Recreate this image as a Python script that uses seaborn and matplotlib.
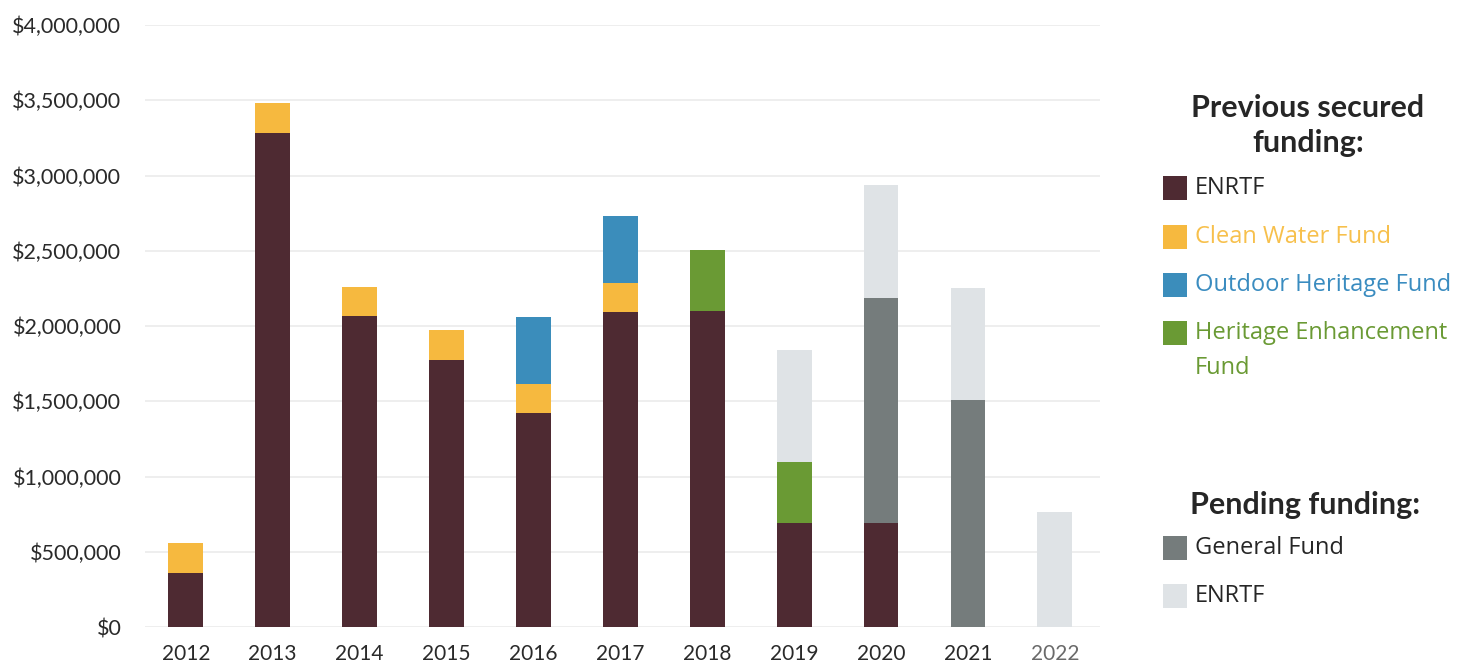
import numpy as np
import matplotlib
matplotlib.use("Agg")
import matplotlib.pyplot as plt
from matplotlib.patches import Rectangle
from matplotlib.ticker import FuncFormatter, MultipleLocator
import seaborn as sns

# Funding per year, in dollars
years = ['2012', '2013', '2014', '2015', '2016', '2017', '2018', '2019', '2020', '2021', '2022']
enrtf = [360000, 3280000, 2065000, 1775000, 1420000, 2095000, 2100000, 690000, 690000, 0, 0]
clean_water = [195000, 200000, 195000, 200000, 195000, 190000, 0, 0, 0, 0, 0]
outdoor_heritage = [0, 0, 0, 0, 445000, 445000, 0, 0, 0, 0, 0]
heritage_enhancement = [0, 0, 0, 0, 0, 0, 405000, 405000, 0, 0, 0]
general_fund_pending = [0, 0, 0, 0, 0, 0, 0, 0, 1495000, 1510000, 0]
enrtf_pending = [0, 0, 0, 0, 0, 0, 0, 745000, 753000, 745000, 762000]

C_ENRTF = '#4e2a32'
C_CWF = '#f6b93f'
C_OHF = '#3b8dbb'
C_HEF = '#6a9a34'
C_GF = '#757c7c'
C_PEND = '#dfe3e6'

layers = [
    ('ENRTF', enrtf, C_ENRTF),
    ('Clean Water Fund', clean_water, C_CWF),
    ('Outdoor Heritage Fund', outdoor_heritage, C_OHF),
    ('Heritage Enhancement Fund', heritage_enhancement, C_HEF),
    ('General Fund', general_fund_pending, C_GF),
    ('ENRTF (pending)', enrtf_pending, C_PEND),
]

sns.set_theme(style='white')
plt.rcParams['font.family'] = ['Lato', 'DejaVu Sans']

W, H = 1475, 667
fig = plt.figure(figsize=(W / 100, H / 100), dpi=100)
ax = fig.add_axes([145 / W, 40 / H, 955 / W, 602 / H])

# stacked bars: draw cumulative totals from the top layer down
cum = np.zeros(len(years))
tops = []
for name, vals, color in layers:
    cum = cum + np.array(vals, dtype=float)
    tops.append((name, cum.copy(), color))

for name, top, color in reversed(tops):
    sns.barplot(x=years, y=top, order=years, color=color, saturation=1,
                width=0.4, ax=ax, zorder=2, linewidth=0, edgecolor='none')

ax.set_ylim(0, 4000000)
ax.set_xlim(-0.47, 10.52)
ax.yaxis.set_major_locator(MultipleLocator(500000))
ax.yaxis.set_major_formatter(FuncFormatter(lambda v, p: '${:,.0f}'.format(v)))
ax.yaxis.grid(True, color='#ebebeb', lw=1.2, zorder=0)
ax.set_axisbelow(True)
sns.despine(ax=ax, left=True, bottom=True)
ax.tick_params(axis='y', length=0, pad=17, labelsize=15.5, labelcolor='#2a2a2a')
ax.tick_params(axis='x', length=0, pad=12, labelsize=15, labelcolor='#2a2a2a')
ax.get_xticklabels()[-1].set_color('#6a6a6a')
ax.set_xlabel('')
ax.set_ylabel('')


def fx(x):
    return x / W


def fy(y):
    return 1 - y / H


# legend drawn by hand
head_kw = dict(ha='center', va='center', fontsize=22, fontweight='bold',
               color='#262626', family=['Lato', 'DejaVu Sans'])
fig.text(fx(1308), fy(108), 'Previous secured', **head_kw)
fig.text(fx(1308), fy(143), 'funding:', **head_kw)
fig.text(fx(1305), fy(505), 'Pending funding:', **head_kw)

item_kw = dict(ha='left', va='center', fontsize=17, family=['Open Sans', 'DejaVu Sans'])
items = [
    (188, C_ENRTF, 'ENRTF', '#262626'),
    (237, C_CWF, 'Clean Water Fund', '#f7c04c'),
    (285, C_OHF, 'Outdoor Heritage Fund', '#3a8cc0'),
    (333, C_HEF, 'Heritage Enhancement', C_HEF),
    (548, C_GF, 'General Fund', '#262626'),
    (596, C_PEND, 'ENRTF', '#262626'),
]
for y, c, label, tc in items:
    fig.add_artist(Rectangle((fx(1163), fy(y + 12)), 24 / W, 24 / H,
                             transform=fig.transFigure, color=c, lw=0))
    fig.text(fx(1195), fy(y), label, color=tc, **item_kw)
fig.text(fx(1195), fy(368), 'Fund', color=C_HEF, **item_kw)

fig.savefig('out.png', dpi=100)
